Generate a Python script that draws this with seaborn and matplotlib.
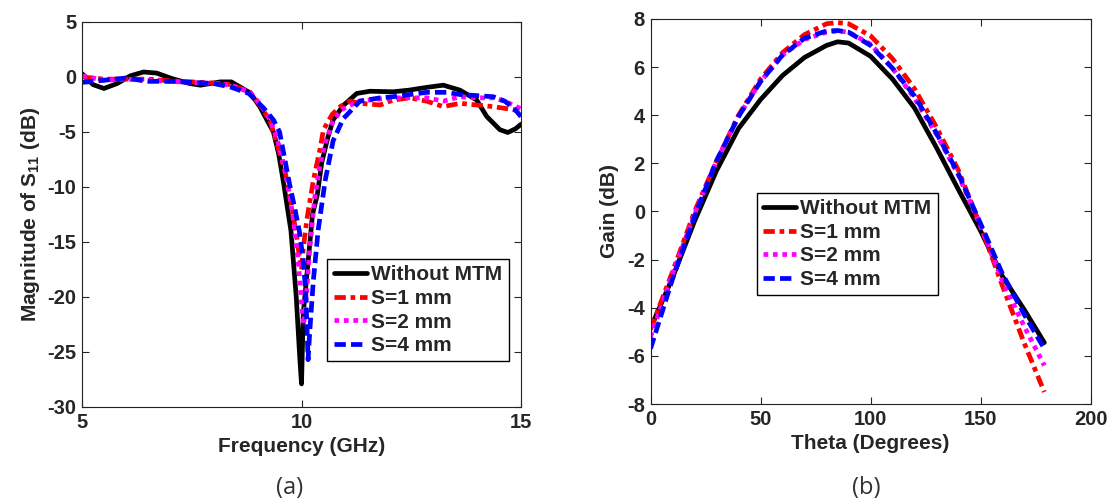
import numpy as np
import pandas as pd
import seaborn as sns
import matplotlib
matplotlib.use("Agg")
import matplotlib.pyplot as plt

# ---- (a) S11 magnitude vs frequency ----
black_f = [5.0, 5.25, 5.5, 5.8, 6.1, 6.4, 6.7, 7.05, 7.45, 7.7, 8.15, 8.4, 8.83, 9.05, 9.21,
           9.36, 9.48, 9.59, 9.76, 9.88, 9.96, 10.0, 10.04, 10.15, 10.25, 10.36, 10.46, 10.6,
           10.72, 10.95, 11.26, 11.56, 12.09, 12.45, 12.85, 13.23, 13.61, 13.99, 14.22, 14.52,
           14.7, 14.88, 15.0]
black_db = [0.3, -0.7, -1.05, -0.6, 0.1, 0.45, 0.35, -0.15, -0.6, -0.75, -0.45, -0.45, -1.45,
            -2.7, -3.9, -5.0, -7.0, -9.6, -14.0, -20.0, -25.5, -27.9, -21.5, -16.8, -12.5, -10.7,
            -7.8, -5.5, -3.9, -2.6, -1.5, -1.3, -1.35, -1.2, -0.95, -0.75, -1.2, -2.1, -3.6,
            -4.8, -5.05, -4.7, -4.3]

red_f = [5.0, 5.5, 6.0, 6.5, 7.0, 7.5, 8.0, 8.4, 8.83, 9.1, 9.3, 9.48, 9.62, 9.74, 9.89, 9.97,
         10.0, 10.04, 10.12, 10.27, 10.42, 10.5, 10.7, 10.88, 11.1, 11.33, 11.79, 12.09, 12.47,
         12.85, 13.23, 13.61, 13.99, 14.37, 14.7, 15.0]
red_db = [0.0, -0.2, -0.2, -0.2, -0.35, -0.45, -0.55, -0.7, -1.4, -2.8, -4.2, -6.6, -8.5, -10.9,
          -14.5, -16.9, -17.5, -15.6, -13.0, -9.4, -6.6, -4.8, -3.4, -2.7, -2.2, -2.4, -2.55,
          -2.1, -1.9, -2.2, -2.7, -2.4, -2.55, -2.7, -2.9, -3.1]

mag_f = [5.0, 5.5, 6.0, 6.5, 7.0, 7.5, 8.0, 8.4, 8.83, 9.1, 9.3, 9.5, 9.65, 9.8, 9.92, 10.0,
         10.05, 10.1, 10.18, 10.3, 10.42, 10.54, 10.7, 10.9, 11.3, 11.8, 12.1, 12.85, 13.23,
         13.61, 14.0, 14.37, 14.63, 15.0]
mag_db = [0.1, -0.3, -0.2, -0.3, -0.4, -0.5, -0.6, -0.75, -1.4, -2.7, -4.0, -6.4, -9.0, -12.5,
          -16.5, -20.5, -22.5, -20.5, -16.0, -11.0, -8.0, -6.0, -4.2, -3.0, -2.2, -2.0, -1.9,
          -1.9, -2.2, -1.8, -1.9, -1.9, -2.2, -2.9]

blue_f = [5.0, 5.5, 6.0, 6.5, 7.0, 7.5, 8.0, 8.37, 8.8, 9.13, 9.36, 9.5, 9.72, 9.85, 9.95,
          10.05, 10.1, 10.15, 10.19, 10.27, 10.38, 10.54, 10.72, 10.95, 11.33, 11.79, 12.09,
          12.85, 13.3, 13.61, 14.0, 14.37, 14.63, 14.85, 15.0]
blue_db = [-0.5, -0.3, -0.1, -0.4, -0.4, -0.5, -0.6, -0.9, -1.5, -2.8, -3.9, -5.0, -9.6, -12.0,
           -14.0, -17.0, -20.0, -25.7, -23.0, -18.5, -13.9, -9.4, -5.8, -3.8, -2.2, -1.9, -1.8,
           -1.4, -1.4, -1.6, -1.7, -1.8, -2.2, -2.9, -3.6]

# ---- (b) gain vs theta ----
theta = [0, 10, 20, 30, 40, 50, 60, 70, 80, 85, 90, 100, 110, 120, 130, 140, 150, 160, 170, 179]
gain_black = [-4.85, -2.75, -0.4, 1.7, 3.45, 4.65, 5.65, 6.4, 6.9, 7.05, 7.0, 6.45, 5.5, 4.3,
              2.65, 0.9, -0.8, -2.7, -4.1, -5.45]
gain_red = [-4.9, -2.5, 0.0, 2.1, 4.0, 5.5, 6.6, 7.35, 7.8, 7.85, 7.8, 7.3, 6.35, 5.1, 3.5, 1.7,
            -0.6, -3.1, -5.5, -7.5]
gain_mag = [-5.2, -2.6, -0.1, 2.1, 3.95, 5.4, 6.5, 7.15, 7.45, 7.5, 7.45, 6.95, 5.95, 4.7, 3.2,
            1.5, -0.6, -2.9, -4.8, -6.4]
gain_blue = [-5.7, -2.8, -0.2, 2.1, 3.95, 5.4, 6.5, 7.2, 7.5, 7.52, 7.45, 6.9, 5.95, 4.8, 3.25,
             1.55, -0.5, -2.6, -4.3, -5.7]

labels = ["Without MTM", "S=1 mm", "S=2 mm", "S=4 mm"]
colors = ["black", "red", "magenta", "blue"]
dashes = [None, (2.4, 1, 1, 1), (1, 1), (2.4, 1.1)]

sns.set_style("ticks")
plt.rcParams["font.family"] = ["Liberation Sans", "DejaVu Sans"]
plt.rcParams["font.weight"] = "bold"
plt.rcParams["axes.unicode_minus"] = False
plt.rcParams["mathtext.fontset"] = "custom"
plt.rcParams["mathtext.rm"] = "Liberation Sans:bold"
plt.rcParams["mathtext.bf"] = "Liberation Sans:bold"
plt.rcParams["axes.linewidth"] = 0.8
plt.rcParams["axes.edgecolor"] = "#222222"

fig = plt.figure(figsize=(11.13, 5.04), dpi=100)
ax1 = fig.add_axes([0.0737, 0.1925, 0.3944, 0.764])
ax2 = fig.add_axes([0.5845, 0.1984, 0.3953, 0.764])

lw = 3.4
s11 = [(black_f, black_db), (red_f, red_db), (mag_f, mag_db), (blue_f, blue_db)]
gains = [gain_black, gain_red, gain_mag, gain_blue]

for (f, db), lab, c, d in zip(s11, labels, colors, dashes):
    line_kw = {} if d is None else {"dashes": d}
    sns.lineplot(x=f, y=db, ax=ax1, color=c, lw=lw, label=lab, estimator=None, sort=False,
                 **line_kw)

for g, lab, c, d in zip(gains, labels, colors, dashes):
    line_kw = {} if d is None else {"dashes": d}
    sns.lineplot(x=theta, y=g, ax=ax2, color=c, lw=lw, label=lab, estimator=None, sort=False,
                 **line_kw)

ax1.set_xlim(5, 15)
ax1.set_ylim(-30, 5)
ax1.set_xticks([5, 10, 15])
ax1.set_yticks(np.arange(-30, 6, 5))
ax1.set_xlabel("Frequency (GHz)", fontsize=15, fontweight="bold", labelpad=4)
ax1.set_ylabel("Magnitude of S$_{11}$ (dB)", fontsize=15, fontweight="bold", labelpad=4)

ax2.set_xlim(0, 200)
ax2.set_ylim(-8, 8)
ax2.set_xticks(np.arange(0, 201, 50))
ax2.set_yticks(np.arange(-8, 9, 2))
ax2.set_xlabel("Theta (Degrees)", fontsize=15, fontweight="bold", labelpad=4)
ax2.set_ylabel("Gain (dB)", fontsize=15, fontweight="bold", labelpad=6)

for ax in (ax1, ax2):
    ax.tick_params(direction="in", top=True, right=True, length=5, width=0.8,
                   labelsize=14.5, pad=4)
    for t in ax.get_xticklabels() + ax.get_yticklabels():
        t.set_fontweight("bold")

leg_kw = dict(loc="upper left", frameon=True, fancybox=False, edgecolor="black",
              framealpha=1, borderaxespad=0, handlelength=1.6, handletextpad=0.2,
              labelspacing=0.22, borderpad=0.3, prop={"size": 15, "weight": "bold"})
l1 = ax1.legend(bbox_to_anchor=(0.559, 0.384), **leg_kw)
l2 = ax2.legend(bbox_to_anchor=(0.241, 0.548), **leg_kw)
for lg in (l1, l2):
    lg.get_frame().set_linewidth(1.0)

fig.text(290 / 1113, 1 - 488 / 504, "(a)", fontsize=17, fontweight="normal", ha="center",
         va="center", family=["Open Sans", "DejaVu Sans"], color="#333333")
fig.text(866 / 1113, 1 - 488 / 504, "(b)", fontsize=17, fontweight="normal", ha="center",
         va="center", family=["Open Sans", "DejaVu Sans"], color="#333333")

fig.savefig("out.png", dpi=100)
